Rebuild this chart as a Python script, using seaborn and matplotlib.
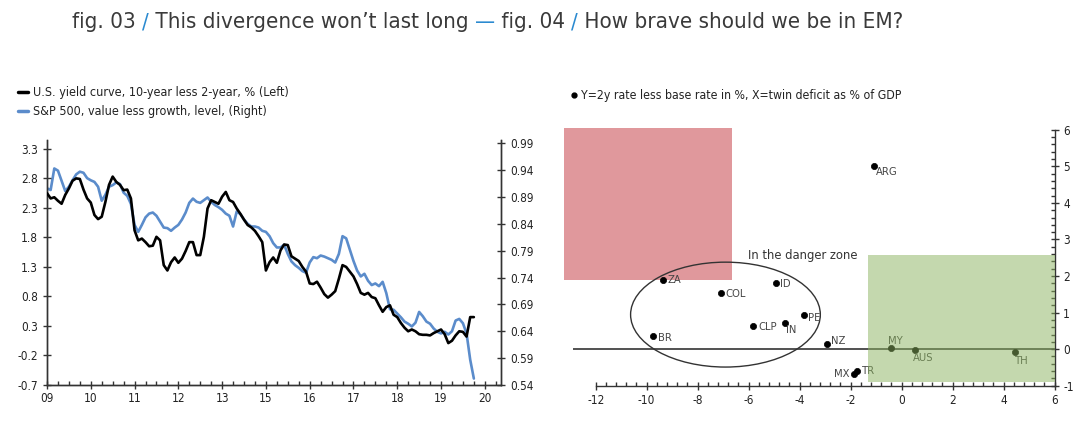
import numpy as np
import pandas as pd
import matplotlib
matplotlib.use("Agg")
import matplotlib.pyplot as plt
from matplotlib.patches import Rectangle, Ellipse
from matplotlib.lines import Line2D
from matplotlib.ticker import FixedLocator
import seaborn as sns

# ---------------- data: fig. 03 (monthly samples) ----------------
yield_curve = [2.55, 2.46, 2.48, 2.42, 2.37, 2.52, 2.63, 2.76, 2.80, 2.79, 2.61, 2.46,
               2.39, 2.18, 2.11, 2.15, 2.40, 2.69, 2.83, 2.74, 2.69, 2.60, 2.61, 2.46,
               1.92, 1.75, 1.78, 1.72, 1.65, 1.66, 1.81, 1.75, 1.33, 1.24, 1.38, 1.46,
               1.37, 1.44, 1.57, 1.72, 1.72, 1.50, 1.50, 1.81, 2.29, 2.43, 2.40, 2.37,
               2.49, 2.57, 2.43, 2.40, 2.29, 2.20, 2.10, 2.01, 1.97, 1.91, 1.82, 1.72,
               1.24, 1.38, 1.46, 1.37, 1.58, 1.68, 1.67, 1.48, 1.44, 1.40, 1.30, 1.22,
               1.02, 1.01, 1.05, 0.95, 0.84, 0.78, 0.83, 0.89, 1.10, 1.33, 1.30, 1.22,
               1.14, 1.01, 0.86, 0.83, 0.86, 0.79, 0.77, 0.65, 0.54, 0.62, 0.65, 0.49,
               0.45, 0.35, 0.27, 0.21, 0.24, 0.21, 0.16, 0.15, 0.15, 0.14, 0.18, 0.21,
               0.24, 0.16, 0.01, 0.05, 0.14, 0.21, 0.20, 0.12, 0.45, 0.45]
value_growth = [0.906, 0.903, 0.943, 0.939, 0.920, 0.901, 0.909, 0.921, 0.932, 0.937, 0.935, 0.925,
                0.921, 0.918, 0.909, 0.883, 0.894, 0.909, 0.912, 0.917, 0.914, 0.898, 0.892, 0.877,
                0.838, 0.825, 0.838, 0.852, 0.859, 0.861, 0.855, 0.844, 0.833, 0.832, 0.827, 0.833,
                0.838, 0.848, 0.861, 0.879, 0.887, 0.881, 0.879, 0.884, 0.889, 0.881, 0.875, 0.871,
                0.866, 0.859, 0.855, 0.835, 0.863, 0.858, 0.848, 0.840, 0.835, 0.835, 0.833, 0.827,
                0.825, 0.817, 0.804, 0.796, 0.796, 0.801, 0.784, 0.770, 0.763, 0.758, 0.752, 0.749,
                0.768, 0.778, 0.776, 0.781, 0.779, 0.776, 0.773, 0.768, 0.784, 0.817, 0.813, 0.792,
                0.771, 0.753, 0.742, 0.747, 0.734, 0.726, 0.729, 0.724, 0.732, 0.711, 0.681, 0.680,
                0.673, 0.666, 0.658, 0.654, 0.649, 0.656, 0.676, 0.668, 0.658, 0.654, 0.645, 0.639,
                0.636, 0.639, 0.634, 0.640, 0.660, 0.663, 0.655, 0.636, 0.587, 0.552]
axis_pos = np.arange(len(yield_curve)) / 12.0     # position on the category-like year axis
year_labels = ['09', '10', '11', '12', '13', '15', '16', '17', '18', '19', '20']
left_ticks = [-0.7, -0.2, 0.3, 0.8, 1.3, 1.8, 2.3, 2.8, 3.3]
right_ticks = [0.54, 0.59, 0.64, 0.69, 0.74, 0.79, 0.84, 0.89, 0.94, 0.99]

# ---------------- data: fig. 04 ----------------
countries = ['ZA', 'COL', 'ID', 'PE', 'CLP', 'IN', 'BR', 'NZ', 'ARG', 'MY', 'AUS', 'TH', 'MX', 'TR']
twin_deficit = [-9.36, -7.08, -4.92, -3.83, -5.83, -4.57, -9.76, -2.93, -1.10, -0.40, 0.53, 4.43, -1.88, -1.74]
rate_spread = [1.89, 1.54, 1.80, 0.93, 0.63, 0.72, 0.35, 0.14, 5.02, 0.03, -0.01, -0.09, -0.68, -0.61]
scatter_xticks = [-12, -10, -8, -6, -4, -2, 0, 2, 4, 6]
scatter_yticks = [-1, 0, 1, 2, 3, 4, 5, 6]

# ---------------- style ----------------
W, H = 1087, 433
sns.set_style("white")
plt.rcParams['font.family'] = ['DejaVu Sans']
plt.rcParams['font.stretch'] = 'condensed'
TXT = '#222222'
BLUE_TITLE = '#2b8ad0'
BLUE_LINE = '#5b8ccb'

fig = plt.figure(figsize=(W / 100, H / 100), dpi=100)
fig.patch.set_facecolor('white')

# ================= left chart =================
ax1 = fig.add_axes([47 / W, 1 - 385 / H, (501 - 47) / W, (385 - 140) / H])
ax1r = ax1.twinx()
df = pd.DataFrame({'pos': axis_pos, 'yc': yield_curve, 'vg': value_growth})
sns.lineplot(data=df, x='pos', y='vg', ax=ax1r, color=BLUE_LINE, lw=1.9, legend=False, zorder=2)
sns.lineplot(data=df, x='pos', y='yc', ax=ax1, color='black', lw=1.9, legend=False, zorder=3)
ax1.set_zorder(ax1r.get_zorder() + 1)
ax1.patch.set_visible(False)

ax1.set_xlim(0, 10.37)
ax1.set_ylim(-0.7, 3.45)
ax1r.set_ylim(0.5412, 0.996)
ax1.set_xticks(range(len(year_labels)))
ax1.set_xticklabels(year_labels)
ax1.xaxis.set_minor_locator(FixedLocator(np.arange(0, 10.3, 0.25)))
ax1.set_yticks(left_ticks)
ax1.set_yticklabels([f'{v:.1f}' for v in left_ticks])
ax1r.set_yticks(right_ticks)
ax1r.set_yticklabels([f'{v:.2f}' for v in right_ticks])
for a in (ax1, ax1r):
    a.set_xlabel('')
    a.set_ylabel('')
    for s in a.spines.values():
        s.set_color('#333333')
        s.set_linewidth(1.0)
    a.spines['top'].set_visible(False)
ax1.tick_params(axis='x', which='major', direction='inout', length=6, width=1, colors='#333333',
                labelcolor=TXT, labelsize=8.5, pad=2, bottom=True)
ax1.tick_params(axis='x', which='minor', direction='in', length=3, width=1, colors='#333333', bottom=True)
ax1.tick_params(axis='y', which='major', direction='inout', length=6, width=1, colors='#333333',
                labelcolor=TXT, labelsize=8.5, left=True)
ax1r.tick_params(axis='y', which='major', direction='inout', length=6, width=1, colors='#333333',
                 labelcolor=TXT, labelsize=8.5, right=True)

fig.legend(handles=[Line2D([], [], color='black', lw=2.5),
                    Line2D([], [], color=BLUE_LINE, lw=2.5)],
           labels=['U.S. yield curve, 10-year less 2-year, % (Left)',
                   'S&P 500, value less growth, level, (Right)'],
           loc='upper left', bbox_to_anchor=(18 / W, 1 - 86 / H), frameon=False,
           handlelength=0.8, handletextpad=0.4, labelspacing=0.5, fontsize=9,
           borderaxespad=0, borderpad=0, labelcolor=TXT)

# ================= right chart =================
ax2 = fig.add_axes([562.5 / W, 1 - 385.7 / H, (1054.7 - 562.5) / W, (385.7 - 128) / H])
ax2.set_xlim(-13.3, 6)
ax2.set_ylim(-1, 6.05)

ax2.add_patch(Rectangle((-13.25, 1.9), 6.58, 4.15, facecolor='#e0989c', edgecolor='none', zorder=1))
ax2.add_patch(Ellipse((-6.91, 0.945), 7.44, 2.87, facecolor='none', edgecolor='#333333', lw=1.0, zorder=2))
ax2.hlines(0, -12.9, 6, color='#333333', lw=1.2, zorder=2)

sns.scatterplot(x=twin_deficit, y=rate_spread, ax=ax2, color='black', s=20, edgecolor='black',
                linewidth=0.5, zorder=3, legend=False)

label_offsets = {
    'ZA': (4.5, 0, 'left'), 'COL': (4, -0.7, 'left'), 'ID': (4, -0.7, 'left'),
    'PE': (4, -2.7, 'left'), 'CLP': (5, -1, 'left'), 'IN': (1, -7, 'left'),
    'BR': (5, -1.3, 'left'), 'NZ': (4.5, 3.3, 'left'), 'ARG': (2, -6.3, 'left'),
    'MY': (-3, 7.3, 'left'), 'AUS': (-2.4, -8.7, 'left'), 'TH': (0.7, -8.3, 'left'),
    'MX': (-4.5, -0.3, 'right'), 'TR': (4.5, 0.3, 'left'),
}
for name, xv, yv in zip(countries, twin_deficit, rate_spread):
    dx, dy, ha = label_offsets[name]
    ax2.annotate(name, (xv, yv), xytext=(dx, dy), textcoords='offset pixels',
                 ha=ha, va='center', fontsize=8, color='#444444', zorder=3)

ax2.add_patch(Rectangle((-1.31, -0.89), 7.31, 3.47, facecolor='#8bb35f', alpha=0.5,
                        edgecolor='none', zorder=5))
ax2.text(-6.04, 2.57, 'In the danger zone', fontsize=9.3, color='#333333', ha='left', va='center', zorder=6)

ax2.yaxis.tick_right()
ax2.spines['left'].set_visible(False)
ax2.spines['top'].set_visible(False)
ax2.spines['bottom'].set_bounds(-12, 6)
ax2.spines['right'].set_bounds(-1, 6)
for s in ('bottom', 'right'):
    ax2.spines[s].set_color('#333333')
    ax2.spines[s].set_linewidth(1.0)
ax2.set_xticks(scatter_xticks)
ax2.set_xticklabels([str(v) for v in scatter_xticks])
ax2.set_yticks(scatter_yticks)
ax2.set_yticklabels([str(v) for v in scatter_yticks])
ax2.xaxis.set_minor_locator(FixedLocator(np.arange(-12, 6.01, 0.4)))
ax2.yaxis.set_minor_locator(FixedLocator(np.arange(-1, 6.01, 0.2)))
ax2.tick_params(axis='x', which='major', direction='inout', length=6, width=1, colors='#333333',
                labelcolor=TXT, labelsize=8.5, bottom=True, pad=3)
ax2.tick_params(axis='x', which='minor', direction='in', length=3, width=1, colors='#333333', bottom=True)
ax2.tick_params(axis='y', which='major', direction='inout', length=6, width=1, colors='#333333',
                labelcolor=TXT, labelsize=8.5, right=True, left=False, pad=3)
ax2.tick_params(axis='y', which='minor', direction='in', length=3, width=1, colors='#333333',
                right=True, left=False)

fig.legend(handles=[Line2D([], [], marker='o', color='black', lw=0, markersize=3.5)],
           labels=['Y=2y rate less base rate in %, X=twin deficit as % of GDP'],
           loc='upper left', bbox_to_anchor=(571 / W, 1 - 89 / H), frameon=False,
           handlelength=0.5, handletextpad=0.35, fontsize=8.85, borderaxespad=0, borderpad=0,
           labelcolor=TXT)

# ================= title =================
fig.canvas.draw()
renderer = fig.canvas.get_renderer()
pieces = [('fig. 03 ', '#3a3a3a'), ('/', BLUE_TITLE), (' This divergence won\u2019t last long ', '#3a3a3a'),
          ('\u2014', BLUE_TITLE), (' fig. 04 ', '#3a3a3a'), ('/', BLUE_TITLE),
          (' How brave should we be in EM?', '#3a3a3a')]
xpix = 72
for txt, col in pieces:
    t = fig.text(xpix / W, 1 - 22 / H, txt, color=col, fontsize=16, ha='left', va='center')
    bb = t.get_window_extent(renderer=renderer)
    xpix = bb.x1

fig.savefig('out.png', dpi=100, facecolor='white')
